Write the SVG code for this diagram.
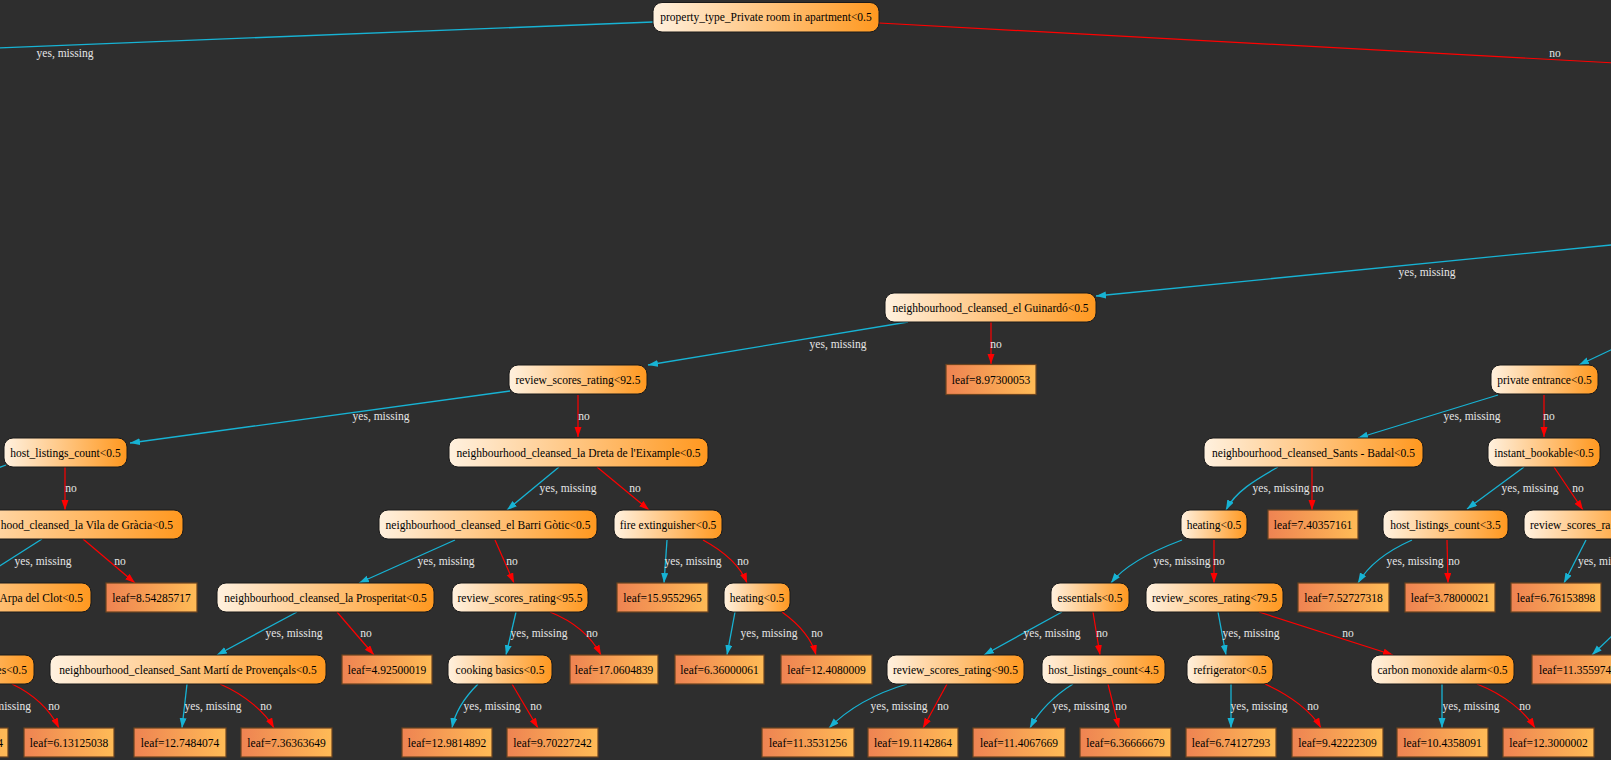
<svg xmlns="http://www.w3.org/2000/svg" width="1611" height="760" viewBox="0 0 1611 760">
<defs>
<linearGradient id="gN" x1="0" y1="0" x2="1" y2="0"><stop offset="0" stop-color="#fff1df"/><stop offset="1" stop-color="#ff981f"/></linearGradient>
<linearGradient id="gL" x1="0" y1="0" x2="1" y2="0"><stop offset="0" stop-color="#ee8352"/><stop offset="1" stop-color="#ffbb56"/></linearGradient>
<marker id="ac" markerUnits="userSpaceOnUse" markerWidth="11" markerHeight="8" refX="10" refY="3.5" orient="auto"><path d="M0,0 L10,3.5 L0,7 z" fill="#17b3d4"/></marker>
<marker id="ar" markerUnits="userSpaceOnUse" markerWidth="11" markerHeight="8" refX="10" refY="3.5" orient="auto"><path d="M0,0 L10,3.5 L0,7 z" fill="#ff0000"/></marker>
<style>
.n rect{fill:url(#gN);stroke:#1a1a1a;stroke-width:1}
.l rect{fill:url(#gL);stroke:#6b4420;stroke-width:1.2}
text{font-family:"Liberation Serif","Times New Roman",serif;font-size:11.5px}
.n text,.l text{fill:#000;text-anchor:middle}
.lb{fill:#e6e6e6;text-anchor:middle}
.cy{stroke:#17b3d4;stroke-width:1.3;fill:none;marker-end:url(#ac)}
.rd{stroke:#ff0000;stroke-width:1.2;fill:none;marker-end:url(#ar)}
.cyn{stroke:#17b3d4;stroke-width:1.3;fill:none}
.rdn{stroke:#ff0000;stroke-width:1.2;fill:none}
</style>
</defs>
<rect x="0" y="0" width="1611" height="760" fill="#2e2e2e"/>
<g id="connectors">
<path class="cyn" d="M653,22 L-5,48"/>
<path class="rdn" d="M879,23 L1616,63"/>
<path class="cy" d="M1616,244.5 L1096,296"/>
<path class="cy" d="M908,322 L648,365"/>
<path class="rd" d="M991,322 L991,364"/>
<path class="cy" d="M1616,347.5 L1579,365"/>
<path class="cy" d="M510,391 L130,443"/>
<path class="rd" d="M578,395 L578,437"/>
<path class="cy" d="M1498,395 L1358,438"/>
<path class="rd" d="M1544,395 L1544,437"/>
<path class="cyn" d="M6,465 L-10,471"/>
<path class="rd" d="M65,467 L65,510"/>
<path class="cy" d="M559,467 L507,510"/>
<path class="rd" d="M597,467 L649,510"/>
<path class="cy" d="M1278,467 C1255,480 1235,492 1226,510"/>
<path class="rd" d="M1312,467 L1312,510"/>
<path class="cy" d="M1524,467 L1467,509"/>
<path class="rd" d="M1554,467 L1583,510"/>
<path class="cyn" d="M42,539 L-10,572"/>
<path class="rd" d="M83,539 L135,583"/>
<path class="cy" d="M455,540 L359,583"/>
<path class="rd" d="M495,540 L514,583"/>
<path class="cy" d="M667,540 L664,583"/>
<path class="rd" d="M703,540 C725,552 740,565 747,583"/>
<path class="cy" d="M1182,540 C1150,552 1125,565 1111,583"/>
<path class="rd" d="M1214,540 L1214,583"/>
<path class="cy" d="M1412,540 C1385,552 1368,566 1358,583"/>
<path class="rd" d="M1447,540 L1448,583"/>
<path class="cy" d="M1586,540 L1564,583"/>
<path class="rd" d="M12,684 C35,695 50,710 59,728"/>
<path class="cy" d="M297,612 L217,655"/>
<path class="rd" d="M337,612 L374,655"/>
<path class="cy" d="M516,612 L506,655"/>
<path class="rd" d="M550,612 C575,622 592,638 601,655"/>
<path class="cy" d="M735,612 L727,655"/>
<path class="rd" d="M782,612 C800,625 812,640 816,655"/>
<path class="cy" d="M1062,612 L984,655"/>
<path class="rd" d="M1093,612 L1100,655"/>
<path class="cy" d="M1218,612 L1226,655"/>
<path class="rd" d="M1259,612 L1393,655"/>
<path class="cy" d="M1616,632 L1592,655"/>
<path class="cy" d="M187,684 L182,728"/>
<path class="rd" d="M220,684 C245,695 265,712 274,728"/>
<path class="cy" d="M478,684 C465,697 455,712 452,728"/>
<path class="rd" d="M512,684 L538,728"/>
<path class="cy" d="M907,684 C870,695 845,712 829,728"/>
<path class="rd" d="M947,684 L923,728"/>
<path class="cy" d="M1073,684 C1055,695 1038,712 1030,728"/>
<path class="rd" d="M1108,684 L1119,728"/>
<path class="cy" d="M1231,684 L1231,728"/>
<path class="rd" d="M1265,684 C1290,695 1312,712 1321,728"/>
<path class="cy" d="M1442,684 L1442,728"/>
<path class="rd" d="M1477,684 C1505,695 1525,712 1535,728"/>
<text class="lb" x="65" y="57">yes, missing</text>
<text class="lb" x="1555" y="57">no</text>
<text class="lb" x="1427" y="276">yes, missing</text>
<text class="lb" x="838" y="348">yes, missing</text>
<text class="lb" x="996" y="348">no</text>
<text class="lb" x="381" y="420">yes, missing</text>
<text class="lb" x="584" y="420">no</text>
<text class="lb" x="1472" y="420">yes, missing</text>
<text class="lb" x="1549" y="420">no</text>
<text class="lb" x="71" y="492">no</text>
<text class="lb" x="568" y="492">yes, missing</text>
<text class="lb" x="635" y="492">no</text>
<text class="lb" x="1281" y="492">yes, missing</text>
<text class="lb" x="1318" y="492">no</text>
<text class="lb" x="1530" y="492">yes, missing</text>
<text class="lb" x="1578" y="492">no</text>
<text class="lb" x="43" y="565">yes, missing</text>
<text class="lb" x="120" y="565">no</text>
<text class="lb" x="446" y="565">yes, missing</text>
<text class="lb" x="512" y="565">no</text>
<text class="lb" x="693" y="565">yes, missing</text>
<text class="lb" x="743" y="565">no</text>
<text class="lb" x="1182" y="565">yes, missing</text>
<text class="lb" x="1219" y="565">no</text>
<text class="lb" x="1415" y="565">yes, missing</text>
<text class="lb" x="1454" y="565">no</text>
<text class="lb" x="1578" y="565" style="text-anchor:start">yes, mi</text>
<text class="lb" x="294" y="637">yes, missing</text>
<text class="lb" x="366" y="637">no</text>
<text class="lb" x="539" y="637">yes, missing</text>
<text class="lb" x="592" y="637">no</text>
<text class="lb" x="769" y="637">yes, missing</text>
<text class="lb" x="817" y="637">no</text>
<text class="lb" x="1052" y="637">yes, missing</text>
<text class="lb" x="1102" y="637">no</text>
<text class="lb" x="1251" y="637">yes, missing</text>
<text class="lb" x="1348" y="637">no</text>
<text class="lb" x="31" y="710" style="text-anchor:end">missing</text>
<text class="lb" x="54" y="710">no</text>
<text class="lb" x="213" y="710">yes, missing</text>
<text class="lb" x="266" y="710">no</text>
<text class="lb" x="492" y="710">yes, missing</text>
<text class="lb" x="536" y="710">no</text>
<text class="lb" x="899" y="710">yes, missing</text>
<text class="lb" x="943" y="710">no</text>
<text class="lb" x="1081" y="710">yes, missing</text>
<text class="lb" x="1121" y="710">no</text>
<text class="lb" x="1259" y="710">yes, missing</text>
<text class="lb" x="1313" y="710">no</text>
<text class="lb" x="1471" y="710">yes, missing</text>
<text class="lb" x="1525" y="710">no</text>
</g>
<g id="root" class="n"><rect x="653" y="2.5" width="226" height="29.5" rx="9"/><text x="766" y="21">property_type_Private room in apartment&lt;0.5</text></g>
<g id="guinardo" class="n"><rect x="885" y="293" width="211" height="29" rx="9"/><text x="990.5" y="311.5">neighbourhood_cleansed_el Guinardó&lt;0.5</text></g>
<g id="rsr925" class="n"><rect x="509" y="365" width="138" height="29" rx="9"/><text x="578" y="383.5">review_scores_rating&lt;92.5</text></g>
<g id="private" class="n"><rect x="1491" y="365" width="107" height="29" rx="9"/><text x="1544.5" y="383.5">private entrance&lt;0.5</text></g>
<g id="hlc05" class="n"><rect x="4" y="438" width="123" height="29" rx="9"/><text x="65.5" y="456.5">host_listings_count&lt;0.5</text></g>
<g id="dreta" class="n"><rect x="449" y="438" width="259" height="29" rx="9"/><text x="578.5" y="456.5">neighbourhood_cleansed_la Dreta de l'Eixample&lt;0.5</text></g>
<g id="sants" class="n"><rect x="1204" y="438" width="219" height="29" rx="9"/><text x="1313.5" y="456.5">neighbourhood_cleansed_Sants - Badal&lt;0.5</text></g>
<g id="instant" class="n"><rect x="1488" y="438" width="112" height="29" rx="9"/><text x="1544" y="456.5">instant_bookable&lt;0.5</text></g>
<g id="gracia" class="n"><rect x="-90" y="510" width="273" height="29" rx="9"/><text x="173" y="528.5" style="text-anchor:end">hood_cleansed_la Vila de Gràcia&lt;0.5</text></g>
<g id="gotic" class="n"><rect x="379" y="510" width="218" height="29" rx="9"/><text x="488" y="528.5">neighbourhood_cleansed_el Barri Gòtic&lt;0.5</text></g>
<g id="fire" class="n"><rect x="614" y="510" width="108" height="29" rx="9"/><text x="668" y="528.5">fire extinguisher&lt;0.5</text></g>
<g id="heatingR" class="n"><rect x="1181" y="510" width="66" height="29" rx="9"/><text x="1214" y="528.5">heating&lt;0.5</text></g>
<g id="hlc35" class="n"><rect x="1383" y="510" width="125" height="29" rx="9"/><text x="1445.5" y="528.5">host_listings_count&lt;3.5</text></g>
<g id="rsrRA" class="n"><rect x="1524" y="510" width="120" height="29" rx="9"/><text x="1530" y="528.5" style="text-anchor:start">review_scores_ra</text></g>
<g id="arpa" class="n"><rect x="-120" y="583" width="211" height="29" rx="9"/><text x="83" y="601.5" style="text-anchor:end">Arpa del Clot&lt;0.5</text></g>
<g id="prosperitat" class="n"><rect x="217" y="583" width="217" height="29" rx="9"/><text x="325.5" y="601.5">neighbourhood_cleansed_la Prosperitat&lt;0.5</text></g>
<g id="rsr955" class="n"><rect x="452" y="583" width="136" height="29" rx="9"/><text x="520" y="601.5">review_scores_rating&lt;95.5</text></g>
<g id="heatingL" class="n"><rect x="724" y="583" width="66" height="29" rx="9"/><text x="757" y="601.5">heating&lt;0.5</text></g>
<g id="essentials" class="n"><rect x="1051" y="583" width="78" height="29" rx="9"/><text x="1090" y="601.5">essentials&lt;0.5</text></g>
<g id="rsr795" class="n"><rect x="1146" y="583" width="137" height="29" rx="9"/><text x="1214.5" y="601.5">review_scores_rating&lt;79.5</text></g>
<g id="es05" class="n"><rect x="-100" y="655" width="134" height="29" rx="9"/><text x="27" y="673.5" style="text-anchor:end">es&lt;0.5</text></g>
<g id="santmarti" class="n"><rect x="50" y="655" width="276" height="29" rx="9"/><text x="188" y="673.5">neighbourhood_cleansed_Sant Martí de Provençals&lt;0.5</text></g>
<g id="cooking" class="n"><rect x="448" y="655" width="104" height="29" rx="9"/><text x="500" y="673.5">cooking basics&lt;0.5</text></g>
<g id="rsr905" class="n"><rect x="887" y="655" width="137" height="29" rx="9"/><text x="955.5" y="673.5">review_scores_rating&lt;90.5</text></g>
<g id="hlc45" class="n"><rect x="1042" y="655" width="123" height="29" rx="9"/><text x="1103.5" y="673.5">host_listings_count&lt;4.5</text></g>
<g id="fridge" class="n"><rect x="1187" y="655" width="86" height="29" rx="9"/><text x="1230" y="673.5">refrigerator&lt;0.5</text></g>
<g id="carbon" class="n"><rect x="1371" y="655" width="143" height="29" rx="9"/><text x="1442.5" y="673.5">carbon monoxide alarm&lt;0.5</text></g>
<g id="L1" class="l"><rect x="946" y="364.5" width="90" height="30"/><text x="991" y="383.5">leaf=8.97300053</text></g>
<g id="L2" class="l"><rect x="106" y="583" width="91" height="29"/><text x="151.5" y="601.5">leaf=8.54285717</text></g>
<g id="L3" class="l"><rect x="1268" y="510" width="90" height="29"/><text x="1313" y="528.5">leaf=7.40357161</text></g>
<g id="L4" class="l"><rect x="617" y="583" width="91" height="29"/><text x="662.5" y="601.5">leaf=15.9552965</text></g>
<g id="L5" class="l"><rect x="1298" y="583" width="91" height="29"/><text x="1343.5" y="601.5">leaf=7.52727318</text></g>
<g id="L6" class="l"><rect x="1405" y="583" width="90" height="29"/><text x="1450" y="601.5">leaf=3.78000021</text></g>
<g id="L7" class="l"><rect x="1511" y="583" width="90" height="29"/><text x="1556" y="601.5">leaf=6.76153898</text></g>
<g id="L8" class="l"><rect x="342" y="655" width="90" height="29"/><text x="387" y="673.5">leaf=4.92500019</text></g>
<g id="L9" class="l"><rect x="570" y="655" width="88" height="29"/><text x="614" y="673.5">leaf=17.0604839</text></g>
<g id="L10" class="l"><rect x="675" y="655" width="89" height="29"/><text x="719.5" y="673.5">leaf=6.36000061</text></g>
<g id="L11" class="l"><rect x="781" y="655" width="91" height="29"/><text x="826.5" y="673.5">leaf=12.4080009</text></g>
<g id="L12" class="l"><rect x="1532" y="655" width="110" height="29"/><text x="1539" y="673.5" style="text-anchor:start">leaf=11.355974</text></g>
<g id="L13" class="l"><rect x="-80" y="728" width="88" height="29"/><text x="3" y="746.5" style="text-anchor:end">4</text></g>
<g id="L14" class="l"><rect x="24" y="728" width="90" height="29"/><text x="69" y="746.5">leaf=6.13125038</text></g>
<g id="L15" class="l"><rect x="134" y="728" width="92" height="29"/><text x="180" y="746.5">leaf=12.7484074</text></g>
<g id="L16" class="l"><rect x="241" y="728" width="91" height="29"/><text x="286.5" y="746.5">leaf=7.36363649</text></g>
<g id="L17" class="l"><rect x="402" y="728" width="90" height="29"/><text x="447" y="746.5">leaf=12.9814892</text></g>
<g id="L18" class="l"><rect x="507" y="728" width="91" height="29"/><text x="552.5" y="746.5">leaf=9.70227242</text></g>
<g id="L19" class="l"><rect x="762" y="728" width="92" height="29"/><text x="808" y="746.5">leaf=11.3531256</text></g>
<g id="L20" class="l"><rect x="868" y="728" width="90" height="29"/><text x="913" y="746.5">leaf=19.1142864</text></g>
<g id="L21" class="l"><rect x="973" y="728" width="92" height="29"/><text x="1019" y="746.5">leaf=11.4067669</text></g>
<g id="L22" class="l"><rect x="1080" y="728" width="91" height="29"/><text x="1125.5" y="746.5">leaf=6.36666679</text></g>
<g id="L23" class="l"><rect x="1186" y="728" width="90" height="29"/><text x="1231" y="746.5">leaf=6.74127293</text></g>
<g id="L24" class="l"><rect x="1292" y="728" width="91" height="29"/><text x="1337.5" y="746.5">leaf=9.42222309</text></g>
<g id="L25" class="l"><rect x="1397" y="728" width="91" height="29"/><text x="1442.5" y="746.5">leaf=10.4358091</text></g>
<g id="L26" class="l"><rect x="1503" y="728" width="91" height="29"/><text x="1548.5" y="746.5">leaf=12.3000002</text></g>
</svg>
